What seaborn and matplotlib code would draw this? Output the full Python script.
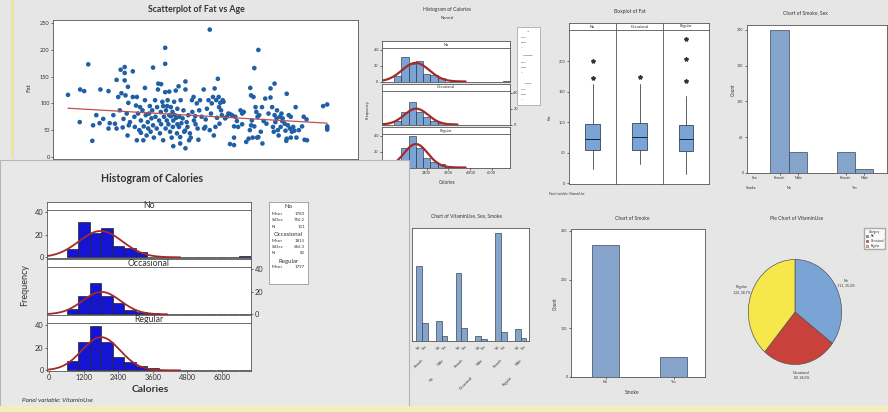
import numpy as np
import pandas as pd
import matplotlib
matplotlib.use("Agg")
import matplotlib.pyplot as plt
from matplotlib.patches import Rectangle, Patch
from matplotlib.transforms import blended_transform_factory
import seaborn as sns

# ---------------- data ----------------
age = [19, 21.9, 22, 23, 24, 25, 25.2, 26, 26.8, 27,
       27.7, 29, 29, 29.3, 30.2, 30.6, 31, 31, 31.4, 31.8,
       32, 32.2, 32.5, 32.7, 33, 33, 33, 33.2, 33.5, 33.7,
       33.8, 33.9, 34, 34.3, 35, 35, 35.4, 35.5, 35.8, 36,
       36, 36.3, 36.6, 36.8, 37, 37, 37.4, 37.6, 37.7, 38,
       38, 38.2, 38.4, 38.7, 38.8, 39, 39.2, 39.4, 39.6, 39.8,
       40, 40, 40.2, 40.5, 40.6, 40.9, 41, 41.2, 41.3, 41.5,
       41.7, 41.9, 42, 42, 42.3, 42.5, 42.5, 42.7, 43, 43,
       43, 43.1, 43.2, 43.4, 43.5, 43.6, 43.8, 44, 44, 44.2,
       44.4, 44.4, 44.6, 44.8, 44.9, 45, 45, 45.2, 45.4, 45.6,
       45.7, 45.9, 46, 46, 46.3, 46.4, 46.5, 46.7, 46.7, 46.8,
       47, 47.3, 47.5, 47.7, 47.9, 48, 48, 48, 48.3, 48.5,
       48.7, 48.9, 49.1, 49.3, 49.6, 49.7, 50, 50.1, 50.4, 50.5,
       50.8, 51, 51.2, 51.4, 51.6, 52, 52.5, 52.6, 52.9, 53,
       53.3, 53.7, 54, 54, 54.3, 54.5, 54.8, 55, 55.2, 55.4,
       55.6, 55.8, 56, 56.2, 56.3, 56.4, 56.6, 56.8, 57, 57.2,
       57.4, 57.8, 58.2, 58.6, 59, 59, 59.5, 60, 60, 60,
       60.3, 60.7, 61, 61.6, 62, 62, 62.4, 63, 63.6, 63.9,
       64, 64.2, 64.2, 64.4, 64.6, 64.8, 65, 65, 65.3, 65.5,
       65.7, 65.8, 66, 66, 66.2, 66.6, 66.9, 67, 67.3, 67.7,
       68, 68.5, 69, 69, 69.4, 69.6, 69.8, 70, 70, 70.2,
       70.5, 70.6, 70.8, 71, 71.3, 71.5, 71.7, 71.9, 72, 72.5,
       72.7, 72.9, 73, 73, 73.3, 73.5, 73.8, 74, 74, 74.3,
       74.6, 74.9, 75.2, 75.4, 76, 76.8, 77.2, 77.4, 77.9, 78,
       82, 83, 83, 83, 83]
fat = [116, 65, 126, 123, 173, 30, 59, 78, 63, 126,
       71, 123, 53, 63, 78, 62, 144, 53, 112, 87,
       163, 119, 55, 71, 168, 157, 143, 115, 81, 40,
       131, 101, 59, 65, 160, 112, 75, 56, 96, 112,
       31, 81, 50, 93, 68, 45, 87, 31, 57, 129,
       106, 78, 40, 65, 53, 81, 95, 47, 72, 87,
       167, 59, 36, 106, 75, 53, 93, 126, 137, 68,
       44, 84, 61, 136, 103, 31, 95, 75, 204, 174,
       121, 53, 87, 68, 95, 106, 61, 78, 122, 47,
       93, 76, 36, 84, 56, 20, 68, 103, 78, 124,
       73, 44, 90, 61, 132, 56, 75, 37, 25, 106,
       63, 72, 87, 47, 49, 16, 141, 126, 65, 56,
       78, 31, 44, 36, 106, 84, 112, 68, 76, 61,
       100, 53, 32, 87, 106, 75, 126, 53, 56, 70,
       90, 106, 238, 50, 81, 100, 112, 40, 128, 56,
       106, 73, 146, 112, 93, 62, 101, 87, 78, 106,
       103, 72, 75, 81, 24, 80, 78, 22, 57, 36,
       75, 67, 56, 87, 81, 61, 84, 28, 34, 50,
       129, 115, 59, 68, 36, 112, 57, 166, 93, 84,
       36, 75, 200, 37, 78, 47, 93, 25, 67, 109,
       62, 81, 128, 111, 93, 56, 47, 137, 78, 65,
       72, 87, 50, 40, 75, 56, 81, 67, 72, 62,
       49, 30, 34, 118, 59, 78, 53, 36, 75, 47,
       56, 49, 93, 36, 50, 57, 75, 32, 70, 31,
       95, 98, 57, 51, 54]
fit_age = [19, 83]
fit_fat = [91, 63]
fat_ticks = [0, 50, 100, 150, 200, 250]

vit_levels = ["No", "Occasional", "Regular"]
cal_bin_edges = [600, 1000, 1400, 1800, 2200, 2600, 3000, 3400, 3800,
                 4200, 4600, 5000, 5400, 5800, 6200, 6600, 7000]
cal_counts_no = [7, 31, 22, 26, 10, 8, 5, 0, 0, 0, 0, 0, 0, 0, 0, 1]
cal_counts_occ = [5, 16, 28, 16, 10, 4, 2, 1, 0, 0, 0, 0, 0, 0, 0, 0]
cal_counts_reg = [8, 25, 39, 25, 12, 7, 4, 2, 0, 0, 0, 0, 0, 0, 0, 0]
cal_mean = [1783, 1815, 1797]
cal_sd = [756.2, 656.3, 660.0]
cal_n = [111, 82, 122]
fit_end = [4550, 4100, 4550]
cal_ticks = [0, 1200, 2400, 3600, 4800, 6000]
freq_ticks = [0, 20, 40]

box_whislo = [23, 31, 15]
box_q1 = [54, 54, 53]
box_med = [73, 76, 72]
box_q3 = [98, 99, 95]
box_whishi = [162, 162, 143]
box_fliers = [[172, 200], [174], [168, 204, 236]]
box_ticks = [0, 50, 100, 150, 200]

smoke_levels = ["No", "Yes"]
sex_levels = ["Female", "Male"]
smoke_sex_female = [240, 36]
smoke_sex_male = [35, 7]
smoke_sex_ticks = [0, 60, 120, 180, 240]

smoke_counts = [271, 42]
smoke_ticks = [0, 100, 200, 300]

combo_vit = ["No", "No", "Occasional", "Occasional", "Regular", "Regular"]
combo_sex = ["Female", "Male", "Female", "Male", "Female", "Male"]
vss_smoke_no = [70, 19, 63, 5, 100, 11]
vss_smoke_yes = [17, 5, 12, 2, 8, 3]

pie_counts = [111, 82, 122]

# ---------------- style ----------------
sns.set_theme(style="white")
plt.rcParams['font.family'] = ['Lato', 'DejaVu Sans']

W, H = 888, 412
BG = '#e6e6e6'
BAR = '#7aa3d6'
EDGE = '#3a4658'
DOT = '#1f5fa5'
FITRED = '#a32a2a'
TXT = '#333333'

fig = plt.figure(figsize=(W / 100, H / 100), dpi=100)
fig.patch.set_facecolor(BG)


def axp(x0, y0, x1, y1, z=1):
    return fig.add_axes([x0 / W, 1 - y1 / H, (x1 - x0) / W, (y1 - y0) / H], zorder=z)


def ftxt(x, y, s, z=5, **kw):
    kw.setdefault('color', TXT)
    kw.setdefault('ha', 'center')
    kw.setdefault('va', 'center')
    return fig.text(x / W, 1 - y / H, s, zorder=z, **kw)


def frect(x0, y0, x1, y1, z=0, **kw):
    r = Rectangle((x0 / W, 1 - y1 / H), (x1 - x0) / W, (y1 - y0) / H,
                  transform=fig.transFigure, zorder=z, **kw)
    fig.add_artist(r)
    return r


def style(ax, fs=4, lw=0.6, length=1.5):
    ax.set_facecolor('white')
    for s in ax.spines.values():
        s.set_visible(True)
        s.set_color('#555555')
        s.set_linewidth(lw)
    ax.tick_params(labelsize=fs, colors=TXT, length=length, width=0.5, pad=1,
                   bottom=True, left=True)
    ax.set_xlabel('')
    ax.set_ylabel('')


def header(x0, y0, x1, y1, label, fs, z=1):
    hx = axp(x0, y0, x1, y1, z=z)
    hx.set_facecolor('white')
    hx.set_xticks([]); hx.set_yticks([])
    for s in hx.spines.values():
        s.set_color('#555555'); s.set_linewidth(0.6)
    hx.text(0.5, 0.5, label, transform=hx.transAxes, ha='center', va='center',
            fontsize=fs, color=TXT)
    return hx


# decorative strips
frect(11, 0, 14, 158, z=0.5, facecolor='#eee3a3', edgecolor='none')

# ---------------- scatter ----------------
ax = axp(53, 20, 358, 159)
sns.scatterplot(x=age, y=fat, ax=ax, s=11, color=DOT, edgecolor='none', linewidth=0)
sns.lineplot(x=fit_age, y=fit_fat, ax=ax, color='#c0504d', lw=0.9)
style(ax, fs=4)
ax.set_xlim(15.3, 90.6)
ax.set_ylim(-4, 256)
ax.set_yticks(fat_ticks)
ax.set_xticks([])
ftxt(196, 9, 'Scatterplot of Fat vs Age', fontsize=6.3, fontweight='bold')
ftxt(29, 88, 'Fat', rotation=90, fontsize=4.5)

# ---------------- histogram helper ----------------
cal_counts = [cal_counts_no, cal_counts_occ, cal_counts_reg]
bin_centers = [(a + b) / 2 for a, b in zip(cal_bin_edges[:-1], cal_bin_edges[1:])]
bin_w = cal_bin_edges[1] - cal_bin_edges[0]


def hist_panels(x0, x1, tops, ph, hh, z, bar_color, curve_lw, fs_tick, fs_head, edge_lw):
    axes = []
    for i in range(3):
        top = tops[i]
        header(x0, top - hh, x1, top, vit_levels[i], fs_head, z=z)
        a = axp(x0, top, x1, top + ph, z=z)
        sns.histplot(x=bin_centers, weights=cal_counts[i], bins=cal_bin_edges, ax=a,
                     color=bar_color, alpha=1, edgecolor='#222222', linewidth=edge_lw)
        xs = np.linspace(-80, fit_end[i], 200)
        ys = cal_n[i] * bin_w * np.exp(-0.5 * ((xs - cal_mean[i]) / cal_sd[i]) ** 2) / (cal_sd[i] * np.sqrt(2 * np.pi))
        sns.lineplot(x=xs, y=ys, ax=a, color=FITRED, lw=curve_lw)
        style(a, fs=fs_tick)
        a.set_xlim(-80, 7010)
        a.set_ylim(-0.6, 42.1)
        a.set_yticks(freq_ticks)
        a.set_xticks(cal_ticks)
        if i == 1:
            a.yaxis.tick_right()
            a.tick_params(right=True, left=False)
        if i < 2:
            a.tick_params(labelbottom=False, bottom=False)
        axes.append(a)
    return axes


# ---------------- small histogram (top middle) ----------------
hist_panels(382, 510, [48, 91, 134], 34, 7, 1, BAR, 1.6, 2.8, 2.8, 0.4)
ftxt(447, 10, 'Histogram of Calories', fontsize=3.6)
ftxt(447, 18, 'Normal', fontsize=3.0)
ftxt(447, 183, 'Calories', fontsize=3.3)
ftxt(368, 110, 'Frequency', rotation=90, fontsize=3.0)
frect(517, 27, 540, 105, z=3, facecolor='white', edgecolor='#888888', lw=0.4)
small_leg = [("No", 31), ("Mean", 37), ("StDev", 42), ("N", 47),
             ("Occasional", 56), ("Mean", 62), ("StDev", 67), ("N", 72),
             ("Regular", 83), ("Mean", 89), ("StDev", 94), ("N", 99)]
for s, yy in small_leg:
    ftxt(528 if s in vit_levels else 521, yy, s, z=4, fontsize=1.6,
         ha='center' if s in vit_levels else 'left')

# ---------------- boxplot ----------------
bx_edges = [569, 616, 663, 709]
for i in range(3):
    header(bx_edges[i], 23, bx_edges[i + 1], 30, vit_levels[i], 2.8)
    a = axp(bx_edges[i], 30, bx_edges[i + 1], 184)
    stats = [dict(whislo=box_whislo[i], q1=box_q1[i], med=box_med[i], q3=box_q3[i],
                  whishi=box_whishi[i], fliers=box_fliers[i])]
    a.bxp(stats, positions=[1], widths=0.32, patch_artist=True, showcaps=False,
          boxprops=dict(facecolor=BAR, edgecolor=EDGE, linewidth=0.6),
          medianprops=dict(color='#222222', linewidth=0.7),
          whiskerprops=dict(color='#444444', linewidth=0.6),
          flierprops=dict(marker='*', markersize=3, markerfacecolor='#333333',
                          markeredgecolor='#333333'))
    style(a, fs=2.8)
    a.set_xlim(0.5, 1.5)
    a.set_ylim(-1, 251)
    a.set_xticks([])
    a.set_yticks(box_ticks)
    if i > 0:
        a.tick_params(labelleft=False, left=False)
ftxt(630, 12, 'Boxplot of Fat', fontsize=3.6)
ftxt(550, 117, 'Fat', rotation=90, fontsize=3.0)
ftxt(549, 194, 'Panel variable: VitaminUse', fontsize=2.2, ha='left')

# ---------------- chart of smoke, sex ----------------
a = axp(747, 25, 887, 173)
df_ss = pd.DataFrame({'Smoke': smoke_levels * 2,
                      'Sex': [sex_levels[0]] * 2 + [sex_levels[1]] * 2,
                      'Count': smoke_sex_female + smoke_sex_male})
sns.barplot(data=df_ss, x='Smoke', y='Count', hue='Sex', order=smoke_levels,
            hue_order=sex_levels, palette=[BAR, BAR], width=0.56, edgecolor=EDGE,
            linewidth=0.5, legend=False, ax=a)
style(a, fs=2.6)
a.set_xlim(-0.636, 1.485)
a.set_ylim(0, 248)
a.set_yticks(smoke_sex_ticks)
centers = sorted(p.get_x() + p.get_width() / 2 for p in a.patches)
a.set_xticks(centers)
a.set_xticklabels([sex_levels[k % 2] for k in range(len(centers))], fontsize=2.6)
tr = blended_transform_factory(a.transData, a.transAxes)
for k, lev in enumerate(smoke_levels):
    a.text(k, -0.10, lev, transform=tr, ha='center', va='center', fontsize=2.6, color=TXT)
ftxt(755, 178, 'Sex', fontsize=2.6)
ftxt(751, 188, 'Smoke', fontsize=2.6)
ftxt(805, 13, 'Chart of Smoke, Sex', fontsize=3.6)
ftxt(733, 90, 'Count', rotation=90, fontsize=3.3)

# ---------------- chart of vitaminuse, sex, smoke ----------------
a = axp(412, 228, 529, 341)
combo_keys = [f"{v}|{s}" for v, s in zip(combo_vit, combo_sex)]
df_v = pd.DataFrame({'combo': combo_keys * 2,
                     'Smoke': [smoke_levels[0]] * 6 + [smoke_levels[1]] * 6,
                     'Count': vss_smoke_no + vss_smoke_yes})
sns.barplot(data=df_v, x='combo', y='Count', hue='Smoke', order=combo_keys,
            hue_order=smoke_levels, palette=[BAR, BAR], width=0.58, edgecolor=EDGE,
            linewidth=0.5, legend=False, ax=a)
style(a, fs=2.4)
a.set_xlim(-0.51, 5.43)
a.set_ylim(0, 105)
a.set_xticks([]); a.set_yticks([])
trf = blended_transform_factory(a.transData, fig.transFigure)
vcent = sorted(p.get_x() + p.get_width() / 2 for p in a.patches)
for k, cx in enumerate(vcent):
    a.text(cx, 1 - 345 / H, smoke_levels[k % 2], transform=trf, rotation=45,
           ha='right', va='top', rotation_mode='anchor', fontsize=2.4, color=TXT, clip_on=False)
for k, s in enumerate(combo_sex):
    a.text(k, 1 - 358 / H, s, transform=trf, rotation=45, ha='right', va='top',
           rotation_mode='anchor', fontsize=2.6, color=TXT, clip_on=False)
for k, v in enumerate(vit_levels):
    a.text(2 * k + 0.5, 1 - 376 / H, v, transform=trf, rotation=45, ha='right', va='top',
           rotation_mode='anchor', fontsize=2.6, color=TXT, clip_on=False)
ftxt(502, 216, 'Chart of VitaminUse, Sex, Smoke', fontsize=3.5, ha='right', z=2)

# ---------------- chart of smoke ----------------
a = axp(571, 229, 705, 377)
sns.barplot(x=smoke_levels, y=smoke_counts, color=BAR, width=0.394, edgecolor=EDGE,
            linewidth=0.5, ax=a)
style(a, fs=2.6)
a.set_xlim(-0.504, 1.453)
a.set_ylim(0, 304)
a.set_yticks(smoke_ticks)
ftxt(632, 218, 'Chart of Smoke', fontsize=3.6)
ftxt(632, 393, 'Smoke', fontsize=3.5)
ftxt(555, 304, 'Count', rotation=90, fontsize=3.3)

# ---------------- pie ----------------
a = axp(739, 249, 851, 375)
a.set_facecolor('none')
tot = sum(pie_counts)
pie_labels = [f"{n}\n{c}, {100 * c / tot:.1f}%" for n, c in zip(vit_levels, pie_counts)]
wedges, texts = a.pie(pie_counts, labels=pie_labels, colors=[BAR, '#c8413a', '#f6e84a'],
                      startangle=90, counterclock=False, labeldistance=1.22,
                      wedgeprops=dict(edgecolor='#555555', linewidth=0.5),
                      textprops=dict(fontsize=2.5, color=TXT))
for t in texts:
    t.set_ha('center'); t.set_multialignment('center')
a.set_aspect('auto')
a.set_xlim(-1.2, 1.2); a.set_ylim(-1.2, 1.2)
ftxt(797, 218, 'Pie Chart of VitaminUse', fontsize=3.6)
fig.legend(handles=[Patch(facecolor=c, edgecolor='#555555', lw=0.4)
                    for c in [BAR, '#c8413a', '#f6e84a']],
           labels=vit_levels, title='Category', loc='upper left',
           bbox_to_anchor=(863 / W, 1 - 227 / H), bbox_transform=fig.transFigure,
           fontsize=2.0, title_fontsize=2.0, frameon=True, fancybox=False,
           edgecolor='#999999', handlelength=1.0, handleheight=0.8,
           borderpad=0.4, labelspacing=0.3)

# ---------------- big histogram panel (front) ----------------
frect(0, 160, 409, 412, z=10, facecolor='#e8e8e8', edgecolor='#b5b5b5', lw=0.8)
hist_panels(47, 251, [210, 267, 323], 48, 8, 11, '#1414d2', 1.3, 5.3, 6.3, 0.5)
ftxt(152, 178, 'Histogram of Calories', z=12, fontsize=7.6, fontweight='bold')
ftxt(150, 390, 'Calories', z=12, fontsize=7.5, fontweight='bold')
ftxt(25, 285, 'Frequency', z=12, rotation=90, fontsize=6.5)
ftxt(22, 400, 'Panel variable: VitaminUse', z=12, fontsize=4.6, ha='left', style='italic')
frect(269, 202, 308, 284, z=12, facecolor='white', edgecolor='#888888', lw=0.5)
leg_rows = [("No", None, 207), ("Mean", f"{cal_mean[0]}", 214), ("StDev", f"{cal_sd[0]}", 220),
            ("N", f"{cal_n[0]}", 227), ("Occasional", None, 234), ("Mean", f"{cal_mean[1]}", 241),
            ("StDev", f"{cal_sd[1]}", 247), ("N", f"{cal_n[1]}", 253), ("Regular", None, 261),
            ("Mean", f"{cal_mean[2]}", 267)]
for lab, val, yy in leg_rows:
    if val is None:
        ftxt(288.5, yy, lab, z=13, fontsize=4.4)
    else:
        ftxt(272, yy, lab, z=13, fontsize=3.2, ha='left')
        ftxt(305, yy, val, z=13, fontsize=3.2, ha='right')

# bottom band
frect(0, 406, 888, 412, z=20, facecolor='#f4eebf', edgecolor='none')

fig.savefig('out.png', dpi=100, facecolor=fig.get_facecolor())
